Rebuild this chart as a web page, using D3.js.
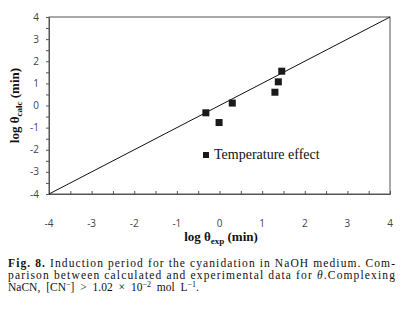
<!DOCTYPE html>
<html>
<head>
<meta charset="utf-8">
<script src="https://cdn.jsdelivr.net/npm/d3@7"></script>
<style>
  body { margin: 0; background: #fff; }
  svg { display: block; }
</style>
</head>
<body>
<div id="chart"></div>
<script>
// Data
const logExp = [-0.32, -0.01, 0.30, 1.30, 1.38, 1.46];
const logCalc = [-0.33, -0.77, 0.11, 0.60, 1.07, 1.55];
const xTicks = [-4, -3, -2, -1, 0, 1, 2, 3, 4];
const yTicks = [-4, -3, -2, -1, 0, 1, 2, 3, 4];
const seriesName = 'Temperature effect';

const width = 403;
const height = 318;
const margin = { top: 17, right: 13, bottom: 124, left: 49 };

const svg = d3.select('#chart').append('svg')
    .attr('width', width)
    .attr('height', height);

const xScale = d3.scaleLinear()
    .domain([-4, 4])
    .range([margin.left, width - margin.right]);

const yScale = d3.scaleLinear()
    .domain([-4, 4])
    .range([height - margin.bottom, margin.top]);

const halfTicks = d3.range(-4, 4.01, 0.5);

// Frame
svg.append('rect')
    .attr('x', xScale(-4))
    .attr('y', yScale(4))
    .attr('width', xScale(4) - xScale(-4))
    .attr('height', yScale(-4) - yScale(4))
    .attr('fill', 'none')
    .attr('stroke', '#555')
    .attr('stroke-width', 1);

// x axis
const xAxis = d3.axisBottom(xScale)
    .tickValues(halfTicks)
    .tickSize(-3)
    .tickFormat('');
svg.append('g')
    .attr('transform', `translate(0,${yScale(-4)})`)
    .call(xAxis)
    .call(g => g.select('.domain').attr('stroke', '#555'))
    .call(g => g.selectAll('.tick line').attr('stroke', '#555'));

svg.append('g')
    .selectAll('text')
    .data(xTicks)
    .enter().append('text')
    .attr('x', d => xScale(d))
    .attr('y', 227)
    .attr('text-anchor', 'middle')
    .attr('font-family', 'Open Sans, sans-serif')
    .attr('font-size', 10)
    .attr('fill', '#444')
    .text(d => d);

// y axis
const yAxis = d3.axisLeft(yScale)
    .tickValues(halfTicks)
    .tickSize(3)
    .tickFormat('');
svg.append('g')
    .attr('transform', `translate(${xScale(-4)},0)`)
    .call(yAxis)
    .call(g => g.select('.domain').attr('stroke', '#555'))
    .call(g => g.selectAll('.tick line').attr('stroke', '#555'));

svg.append('g')
    .selectAll('text')
    .data(yTicks)
    .enter().append('text')
    .attr('x', 39)
    .attr('y', d => yScale(d) + 3.5)
    .attr('text-anchor', 'end')
    .attr('font-family', 'Open Sans, sans-serif')
    .attr('font-size', 10)
    .attr('fill', '#444')
    .text(d => d);

// 1:1 line
svg.append('line')
    .attr('x1', xScale(-4))
    .attr('y1', yScale(-4))
    .attr('x2', xScale(4))
    .attr('y2', yScale(4))
    .attr('stroke', '#111')
    .attr('stroke-width', 1);

// Points
const pts = logExp.map((d, i) => ({ x: d, y: logCalc[i] }));
svg.selectAll('rect.pt')
    .data(pts)
    .enter().append('rect')
    .attr('class', 'pt')
    .attr('x', d => xScale(d.x) - 3.5)
    .attr('y', d => yScale(d.y) - 3.5)
    .attr('width', 7)
    .attr('height', 7)
    .attr('fill', '#1a1a1a');

// Legend
svg.append('rect')
    .attr('x', 203)
    .attr('y', 152)
    .attr('width', 6)
    .attr('height', 6)
    .attr('fill', '#1a1a1a');
svg.append('text')
    .attr('x', 214)
    .attr('y', 159)
    .attr('font-family', 'Liberation Serif, serif')
    .attr('font-size', 14)
    .attr('fill', '#111')
    .text(seriesName);

// Axis titles
const yTitle = svg.append('text')
    .attr('transform', `translate(19,${yScale(0)}) rotate(-90)`)
    .attr('text-anchor', 'middle')
    .attr('font-family', 'Liberation Serif, serif')
    .attr('font-weight', 'bold')
    .attr('font-size', 13)
    .attr('fill', '#111');
yTitle.append('tspan').text('log θ');
yTitle.append('tspan').attr('font-size', 9).attr('dy', 3).text('calc');
yTitle.append('tspan').attr('dy', -3).text(' (min)');

const xTitle = svg.append('text')
    .attr('x', 221)
    .attr('y', 241)
    .attr('text-anchor', 'middle')
    .attr('font-family', 'Liberation Serif, serif')
    .attr('font-weight', 'bold')
    .attr('font-size', 13)
    .attr('fill', '#111');
xTitle.append('tspan').text('log θ');
xTitle.append('tspan').attr('font-size', 9).attr('dy', 3).text('exp');
xTitle.append('tspan').attr('dy', -3).text(' (min)');

// Caption
const cap = svg.append('g')
    .attr('font-family', 'Liberation Serif, serif')
    .attr('font-size', 11.5)
    .attr('fill', '#111');

const l1 = cap.append('text')
    .attr('x', 8).attr('y', 267)
    .attr('textLength', 387)
    .attr('lengthAdjust', 'spacing');
l1.append('tspan').attr('font-weight', 'bold').text('Fig. 8.');
l1.append('tspan').text(' Induction period for the cyanidation in NaOH medium. Com-');

const l2 = cap.append('text')
    .attr('x', 8).attr('y', 279)
    .attr('textLength', 387)
    .attr('lengthAdjust', 'spacing');
l2.append('tspan').text('parison between calculated and experimental data for ');
l2.append('tspan').attr('font-style', 'italic').text('θ');
l2.append('tspan').text('.Complexing');

const l3 = cap.append('text')
    .attr('x', 8).attr('y', 291)
    .attr('word-spacing', 3);
l3.append('tspan').text('NaCN, [CN');
l3.append('tspan').attr('font-size', 8).attr('dy', -4).text('−');
l3.append('tspan').attr('dy', 4).text('] > 1.02 × 10');
l3.append('tspan').attr('font-size', 8).attr('dy', -4).text('−2');
l3.append('tspan').attr('dy', 4).text(' mol L');
l3.append('tspan').attr('font-size', 8).attr('dy', -4).text('−1');
l3.append('tspan').attr('dy', 4).text('.');
</script>
</body>
</html>
